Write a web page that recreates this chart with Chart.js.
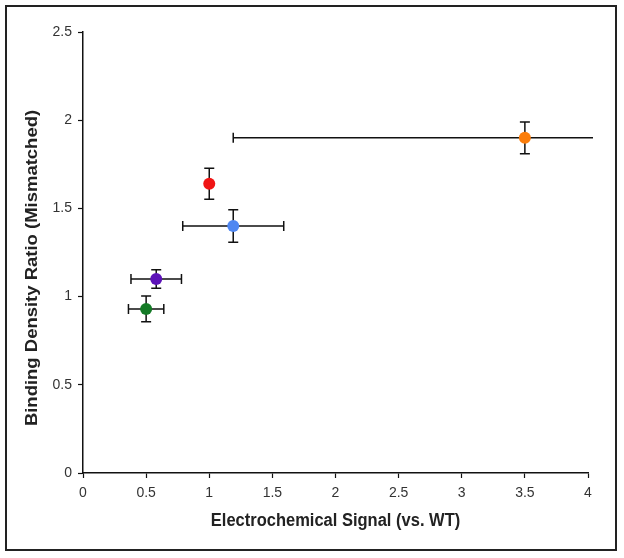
<!DOCTYPE html>
<html>
<head>
<meta charset="utf-8">
<script src="https://cdn.jsdelivr.net/npm/chart.js@4/dist/chart.umd.min.js"></script>
<style>
  html, body { margin: 0; padding: 0; background: #fff; }
  #wrap { width: 624px; height: 558px; position: relative; }
</style>
</head>
<body>
<div id="wrap"><canvas id="c" width="624" height="558"></canvas></div>
<script>
// ---- data ----
const pointNames = ["Green", "Purple", "Red", "Blue", "Orange"];
const xValues = [0.50, 0.58, 1.00, 1.19, 3.50];
const yValues = [0.93, 1.10, 1.64, 1.40, 1.90];
const xErrors = [0.14, 0.20, 0.00, 0.40, 2.31];
const yErrors = [0.073, 0.052, 0.088, 0.092, 0.090];
const xTickValues = [0, 0.5, 1, 1.5, 2, 2.5, 3, 3.5, 4];
const yTickValues = [0, 0.5, 1, 1.5, 2, 2.5];
const xTitle = 'Electrochemical Signal (vs. WT)';
const yTitle = 'Binding Density Ratio (Mismatched)';

// ---- styles ----
const pointColors = ["#147a26", "#5c12b8", "#f01414", "#4f87f2", "#fb7d0a"];
const FONT = "'Liberation Sans', Arial, sans-serif";

const errorBarPlugin = {
  id: 'errorBars',
  beforeDatasetsDraw(chart) {
    const ctx = chart.ctx;
    const xs = chart.scales.x, ys = chart.scales.y;
    const area = chart.chartArea;
    const limitRight = area.right + 5;
    const cap = 5;
    ctx.save();
    ctx.strokeStyle = '#111';
    ctx.lineWidth = 1.5;
    for (let i = 0; i < xValues.length; i++) {
      const cx = xs.getPixelForValue(xValues[i]);
      const cy = ys.getPixelForValue(yValues[i]);
      if (yErrors[i] > 0) {
        const t = ys.getPixelForValue(yValues[i] + yErrors[i]);
        const b = ys.getPixelForValue(yValues[i] - yErrors[i]);
        ctx.beginPath();
        ctx.moveTo(cx, t); ctx.lineTo(cx, b);
        ctx.moveTo(cx - cap, t); ctx.lineTo(cx + cap, t);
        ctx.moveTo(cx - cap, b); ctx.lineTo(cx + cap, b);
        ctx.stroke();
      }
      if (xErrors[i] > 0) {
        let l = xs.getPixelForValue(xValues[i] - xErrors[i]);
        let r = xs.getPixelForValue(xValues[i] + xErrors[i]);
        let capL = true, capR = true;
        if (l < area.left) { l = area.left; capL = false; }
        if (r > limitRight) { r = limitRight; capR = false; }
        ctx.beginPath();
        ctx.moveTo(l, cy); ctx.lineTo(r, cy);
        if (capL) { ctx.moveTo(l, cy - cap); ctx.lineTo(l, cy + cap); }
        if (capR) { ctx.moveTo(r, cy - cap); ctx.lineTo(r, cy + cap); }
        ctx.stroke();
      }
    }
    ctx.restore();
  }
};

const framePlugin = {
  id: 'frame',
  afterDraw(chart) {
    const ctx = chart.ctx;
    const area = chart.chartArea;
    ctx.save();
    ctx.strokeStyle = '#222';
    ctx.lineWidth = 2;
    ctx.strokeRect(6, 6, 610, 544);
    // axis titles
    ctx.fillStyle = '#222';
    ctx.font = "bold 16.5px " + FONT;
    ctx.textAlign = 'center';
    ctx.textBaseline = 'middle';
    ctx.save();
    ctx.translate((area.left + area.right) / 2, 521);
    ctx.scale(1, 1.1);
    ctx.fillText(xTitle, 0, 0);
    ctx.restore();
    ctx.save();
    ctx.translate(32, 268);
    ctx.rotate(-Math.PI / 2);
    ctx.scale(1.12, 1);
    ctx.fillText(yTitle, 0, 0);
    ctx.restore();
    ctx.restore();
  }
};

new Chart(document.getElementById('c'), {
  type: 'scatter',
  data: {
    labels: pointNames,
    datasets: [{
      label: 'Points',
      data: xValues.map((x, i) => ({ x: x, y: yValues[i] })),
      backgroundColor: pointColors,
      borderColor: pointColors,
      pointRadius: 6,
      pointBorderWidth: 0,
      pointHoverRadius: 6
    }]
  },
  options: {
    responsive: false,
    animation: false,
    events: [],
    layout: { padding: { top: 32, right: 36, left: 0, bottom: 0 } },
    plugins: { legend: { display: false }, tooltip: { enabled: false } },
    scales: {
      x: {
        type: 'linear',
        min: 0, max: 4,
        afterBuildTicks(scale) { scale.ticks = xTickValues.map(v => ({ value: v })); },
        afterFit(scale) { scale.height = 85; },
        grid: { drawOnChartArea: false, drawTicks: true, tickLength: 5, color: '#111', tickWidth: 1.2 },
        border: { display: true, color: '#111', width: 1.5 },
        ticks: { color: '#333', font: { family: FONT, size: 14 }, padding: 7, maxRotation: 0,
                 callback: v => String(v) }
      },
      y: {
        type: 'linear',
        min: 0, max: 2.5,
        afterBuildTicks(scale) { scale.ticks = yTickValues.map(v => ({ value: v })); },
        afterFit(scale) { scale.width = 83; },
        grid: { drawOnChartArea: false, drawTicks: true, tickLength: 5, color: '#111', tickWidth: 1.2 },
        border: { display: true, color: '#111', width: 1.5 },
        ticks: { color: '#333', font: { family: FONT, size: 14 }, padding: 6,
                 callback: v => String(v) }
      }
    }
  },
  plugins: [errorBarPlugin, framePlugin]
});
</script>
</body>
</html>
